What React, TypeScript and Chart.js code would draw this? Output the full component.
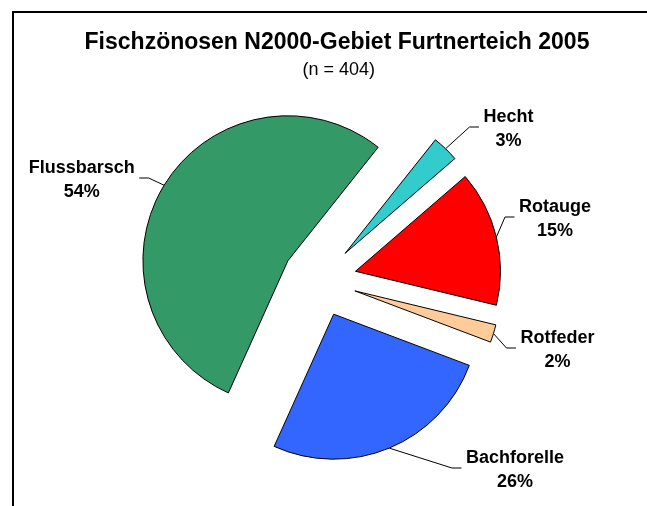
import React, { useEffect, useRef } from "react";
import { Chart, registerables } from "chart.js";

Chart.register(...registerables);

const TITLE = "Fischzönosen N2000-Gebiet Furtnerteich 2005";
const SUBTITLE = "(n = 404)";
const categories = ["Hecht", "Rotauge", "Rotfeder", "Bachforelle", "Flussbarsch"];
const counts = [12, 61, 8, 105, 218];
const colors = ["#33CCCC", "#FF0000", "#FFCC99", "#3366FF", "#339966"];
// label block centres relative to the pie centre (px)
const labelOffsets: [number, number][] = [
  [189, -153],
  [235.5, -63],
  [238, 68],
  [195.5, 188],
  [-237.8, -102],
];

const EXPLODE = 37;
const FONT = '"Liberation Sans", Arial, sans-serif';

const explodePlugin = {
  id: "explode",
  beforeDatasetDraw(chart: any, args: any) {
    const ctx = chart.ctx;
    args.meta.data.forEach((arc: any) => {
      const mid = (arc.startAngle + arc.endAngle) / 2;
      ctx.save();
      ctx.translate(Math.cos(mid) * EXPLODE, Math.sin(mid) * EXPLODE);
      arc.draw(ctx);
      ctx.restore();
    });
    return false;
  },
};

const decorPlugin = {
  id: "decor",
  beforeDraw(chart: any) {
    const ctx = chart.ctx;
    ctx.save();
    ctx.fillStyle = "#fff";
    ctx.fillRect(0, 0, chart.width, chart.height);
    ctx.strokeStyle = "#000";
    ctx.lineWidth = 2;
    ctx.beginPath();
    ctx.moveTo(13, chart.height + 10);
    ctx.lineTo(13, 12);
    ctx.lineTo(chart.width + 10, 12);
    ctx.stroke();
    ctx.fillStyle = "#000";
    ctx.textAlign = "center";
    ctx.textBaseline = "alphabetic";
    ctx.font = `bold 23px ${FONT}`;
    ctx.fillText(TITLE, 337, 49);
    ctx.font = `18px ${FONT}`;
    ctx.fillText(SUBTITLE, 338.8, 75);
    ctx.restore();
  },
  afterDatasetsDraw(chart: any) {
    const ctx = chart.ctx;
    const meta = chart.getDatasetMeta(0);
    const total = counts.reduce((a, b) => a + b, 0);
    ctx.save();
    ctx.font = `bold 18px ${FONT}`;
    ctx.fillStyle = "#000";
    ctx.strokeStyle = "#000";
    ctx.lineWidth = 1;
    meta.data.forEach((arc: any, i: number) => {
      const mid = (arc.startAngle + arc.endAngle) / 2;
      const ax = arc.x + Math.cos(mid) * EXPLODE;
      const ay = arc.y + Math.sin(mid) * EXPLODE;
      const ex = ax + Math.cos(mid) * arc.outerRadius;
      const ey = ay + Math.sin(mid) * arc.outerRadius;
      const [dx, dy] = labelOffsets[i];
      const cx = arc.x + dx;
      const cy = arc.y + dy;
      const l1 = categories[i];
      const l2 = Math.round((counts[i] / total) * 100) + "%";
      const half = Math.max(ctx.measureText(l1).width, ctx.measureText(l2).width) / 2;
      const right = dx > 0;
      const edge = right ? cx - half : cx + half;
      const end = right ? edge - 4.5 : edge + 4.5;
      const elbow = right ? end - 9.5 : end + 9.5;
      ctx.beginPath();
      ctx.moveTo(ex, ey);
      ctx.lineTo(elbow, cy);
      ctx.lineTo(end, cy);
      ctx.stroke();
      ctx.textAlign = "center";
      ctx.textBaseline = "alphabetic";
      ctx.fillText(l1, cx, cy - 5.5);
      ctx.fillText(l2, cx, cy + 18.5);
    });
    ctx.restore();
  },
};

export default function App() {
  const ref = useRef<HTMLCanvasElement>(null);
  useEffect(() => {
    if (!ref.current) return;
    const chart = new Chart(ref.current, {
      type: "pie",
      data: {
        labels: categories,
        datasets: [
          {
            data: counts,
            backgroundColor: colors,
            borderColor: "#000",
            borderWidth: 1,
            borderJoinStyle: "miter",
            offset: 0,
          } as any,
        ],
      },
      options: {
        responsive: false,
        animation: false,
        events: [],
        rotation: 38.5,
        radius: 145,
        layout: { padding: { left: 100, right: 108, top: 120, bottom: 66 } },
        plugins: {
          legend: { display: false },
          tooltip: { enabled: false },
          title: { display: false },
        },
      } as any,
      plugins: [decorPlugin, explodePlugin],
    });
    return () => chart.destroy();
  }, []);
  return (
    <div style={{ position: "fixed", left: 0, top: 0, width: 647, height: 506 }}>
      <canvas ref={ref} width={647} height={506} style={{ display: "block" }} />
    </div>
  );
}
